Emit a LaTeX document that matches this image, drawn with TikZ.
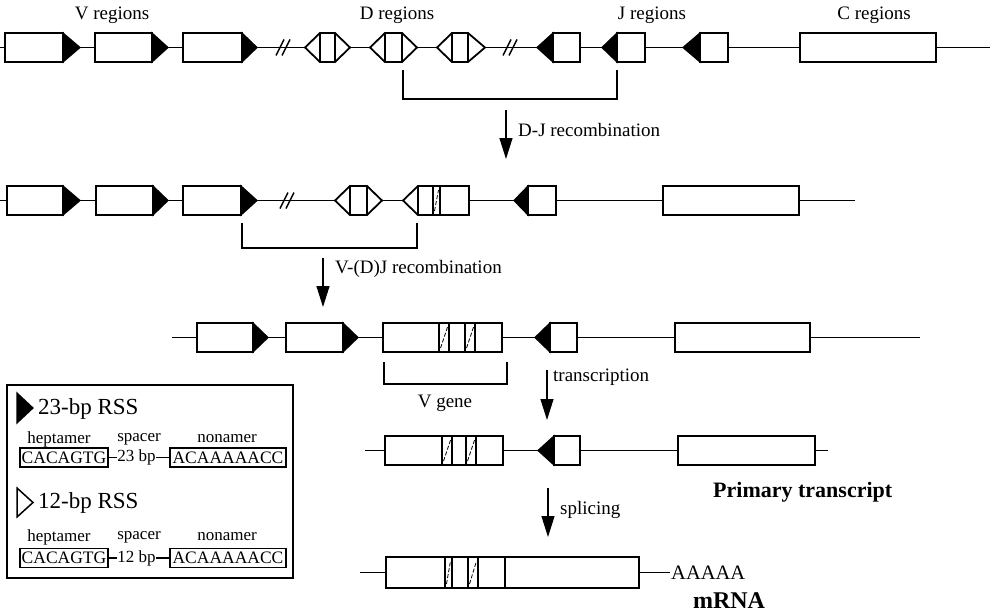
\documentclass[tikz,border=0pt]{standalone}
\usepackage{fontspec}
\setmainfont{Liberation Serif}
\usetikzlibrary{arrows.meta}
\def\hh{14.5}
\newcommand{\VSeg}[4]{%
  \draw[seg] (#1,#4-\hh) rectangle (#2,#4+\hh);
  \filldraw[tri] (#2,#4-\hh) -- (#3,#4) -- (#2,#4+\hh) -- cycle;}
\newcommand{\JSeg}[4]{%
  \draw[seg] (#2,#4-\hh) rectangle (#3,#4+\hh);
  \filldraw[tri] (#2,#4-\hh) -- (#1,#4) -- (#2,#4+\hh) -- cycle;}
\newcommand{\DSeg}[5]{%
  \draw[seg] (#1,#5) -- (#2,#5-\hh) -- (#3,#5-\hh) -- (#4,#5) -- (#3,#5+\hh) -- (#2,#5+\hh) -- cycle;
  \draw[seg] (#2,#5-\hh) -- (#2,#5+\hh) (#3,#5-\hh) -- (#3,#5+\hh);}
\newcommand{\CSeg}[3]{\draw[seg] (#1,#3-\hh) rectangle (#2,#3+\hh);}
\newcommand{\Hatch}[3]{%
  \draw[seg] (#1,#3-\hh) rectangle (#2,#3+\hh);
  \draw[hatchln] (#1+1.5,#3+\hh-4) -- (#2-1.5,#3-\hh+4);}
\newcommand{\BrkMark}[2]{%
  \draw[dna] (#1-9,#2+8) -- (#1-1,#2-8) (#1-3,#2+8) -- (#1+5,#2-8);}
\begin{document}
\begin{tikzpicture}[x=1pt,y=-1pt,line join=miter,
  seg/.style={draw,line width=1.8pt,fill=white},
  tri/.style={draw,line width=1.2pt,fill=black},
  dna/.style={line width=1.5pt},
  hatchln/.style={line width=0.8pt,dash pattern=on 4pt off 2pt},
  brkt/.style={line width=1.5pt},
  step arrow/.style={line width=1.2pt,-{Triangle[width=13pt,length=21pt]}},
  lbl/.style={font=\fontsize{19}{22}\selectfont,inner sep=0pt},
  blbl/.style={font=\fontsize{22}{26}\selectfont\bfseries,inner sep=0pt},
  leg/.style={font=\fontsize{17}{20}\selectfont,inner sep=0pt},
  legbig/.style={font=\fontsize{23}{26}\selectfont,inner sep=0pt},
  seqbox/.style={draw,line width=1.4pt,font=\fontsize{17.5}{20}\selectfont,inner sep=0pt,minimum height=19pt}]
\useasboundingbox (0,0) rectangle (1002,613);

% ---------- Row 1: germline ----------
\draw[dna] (0,47.5) -- (990,47.5);
\VSeg{5}{63}{80}{47.5}
\VSeg{95}{152}{168}{47.5}
\VSeg{183}{242}{257}{47.5}
\BrkMark{285}{47.5}
\DSeg{305}{320}{335}{350}{47.5}
\DSeg{370}{385}{402}{417}{47.5}
\DSeg{437}{452}{468}{485}{47.5}
\BrkMark{512}{47.5}
\JSeg{537}{553}{580}{47.5}
\JSeg{602}{617}{645}{47.5}
\JSeg{683}{700}{728}{47.5}
\CSeg{800}{936}{47.5}
\node[lbl] (vreg) at (112,15) {V regions};
\node[lbl] (dreg) at (397,15) {D regions};
\node[lbl] (jreg) at (652,15) {J regions};
\node[lbl] (creg) at (874,15) {C regions};
\draw[brkt] (403,70) -- (403,99) -- (617,99) -- (617,70);

\coordinate (a1s) at (506,110);
\coordinate (a1e) at (506,159);
\draw[step arrow] (a1s) -- (a1e);
\node[lbl,anchor=west] (djlab) at (518,130) {D-J recombination};

% ---------- Row 2: after D-J ----------
\draw[dna] (0,200.5) -- (855,200.5);
\VSeg{7}{63}{80}{200.5}
\VSeg{96}{153}{168}{200.5}
\VSeg{183}{241}{257}{200.5}
\BrkMark{289}{200.5}
\DSeg{335}{350}{367}{382}{200.5}
\draw[seg] (403,200.5) -- (418,200.5-\hh) -- (469,200.5-\hh) -- (469,200.5+\hh) -- (418,200.5+\hh) -- cycle;
\draw[seg] (418,200.5-\hh) -- (418,200.5+\hh);
\Hatch{433}{440}{200.5}
\JSeg{514}{528}{556}{200.5}
\CSeg{663}{799}{200.5}
\draw[brkt] (242,223) -- (242,248) -- (417,248) -- (417,223);

\coordinate (a2s) at (323,258);
\coordinate (a2e) at (323,307);
\draw[step arrow] (a2s) -- (a2e);
\node[lbl,anchor=west] (vdjlab) at (335,269) {V-(D)J recombination};

% ---------- Row 3: rearranged ----------
\draw[dna] (172,337.5) -- (920,337.5);
\VSeg{197}{253}{268}{337.5}
\VSeg{286}{343}{358}{337.5}
\CSeg{383}{502}{337.5}
\Hatch{439}{449}{337.5}
\Hatch{465}{475}{337.5}
\JSeg{535}{550}{577}{337.5}
\CSeg{675}{810}{337.5}
\draw[brkt] (384,362) -- (384,384) -- (507,384) -- (507,362);
\node[lbl] (vgene) at (445,403) {V gene};

\coordinate (a3s) at (547,370);
\coordinate (a3e) at (547,420);
\draw[step arrow] (a3s) -- (a3e);
\node[lbl,anchor=west] (trlab) at (553,377) {transcription};

% ---------- Row 4: primary transcript ----------
\draw[dna] (365,450.5) -- (828,450.5);
\CSeg{385}{503}{450.5}
\Hatch{442}{452}{450.5}
\Hatch{466}{476}{450.5}
\JSeg{538}{554}{580}{450.5}
\CSeg{678}{815}{450.5}
\node[blbl,anchor=west] (prim) at (713,492) {Primary transcript};

\coordinate (a4s) at (548,488);
\coordinate (a4e) at (548,537);
\draw[step arrow] (a4s) -- (a4e);
\node[lbl,anchor=west] (splab) at (560,510) {splicing};

% ---------- Row 5: mRNA ----------
\def\hh{15.5}
\draw[dna] (360,572.5) -- (670,572.5);
\CSeg{386}{639}{572.5}
\Hatch{445}{452}{572.5}
\Hatch{468}{478}{572.5}
\draw[seg] (505,572.5-\hh) -- (505,572.5+\hh);
\node[font=\fontsize{20.5}{24}\selectfont,inner sep=0pt,anchor=west] (polya) at (671,573) {AAAAA};
\node[font=\fontsize{24}{28}\selectfont\bfseries,inner sep=0pt] (mrna) at (729,601) {mRNA};

% ---------- Legend ----------
\draw[line width=1.3pt] (7,385) rectangle (293,578);
\filldraw[tri] (17,393) -- (33,408) -- (17,423) -- cycle;
\node[legbig,anchor=west] (rss23) at (38,409) {23-bp RSS};
\node[leg] (hepA) at (59,439) {heptamer};
\node[leg] (spA) at (139,439) {spacer};
\node[leg] (nonA) at (227,439) {nonamer};
\node[seqbox,minimum width=88pt] (hb1) at (64,457.5) {CACAGTG};
\node[leg] (sp1) at (136.5,457.5) {23 bp};
\node[seqbox,minimum width=116pt] (nb1) at (228,457.5) {ACAAAAACC};
\draw[line width=1.4pt] (hb1.east) -- (sp1.west);
\draw[line width=1.4pt] (sp1.east) -- (nb1.west);

\draw[line width=1.5pt,fill=white] (17,488) -- (33,502.5) -- (17,517) -- cycle;
\node[legbig,anchor=west] (rss12) at (38,503) {12-bp RSS};
\node[leg] (hepB) at (59,537) {heptamer};
\node[leg] (spB) at (139,537) {spacer};
\node[leg] (nonB) at (227,537) {nonamer};
\node[seqbox,minimum width=88pt] (hb2) at (64,558) {CACAGTG};
\node[leg] (sp2) at (136.5,558) {12 bp};
\node[seqbox,minimum width=116pt] (nb2) at (228,558) {ACAAAAACC};
\draw[line width=1.4pt] (hb2.east) -- (sp2.west);
\draw[line width=1.4pt] (sp2.east) -- (nb2.west);
\end{tikzpicture}
\end{document}
